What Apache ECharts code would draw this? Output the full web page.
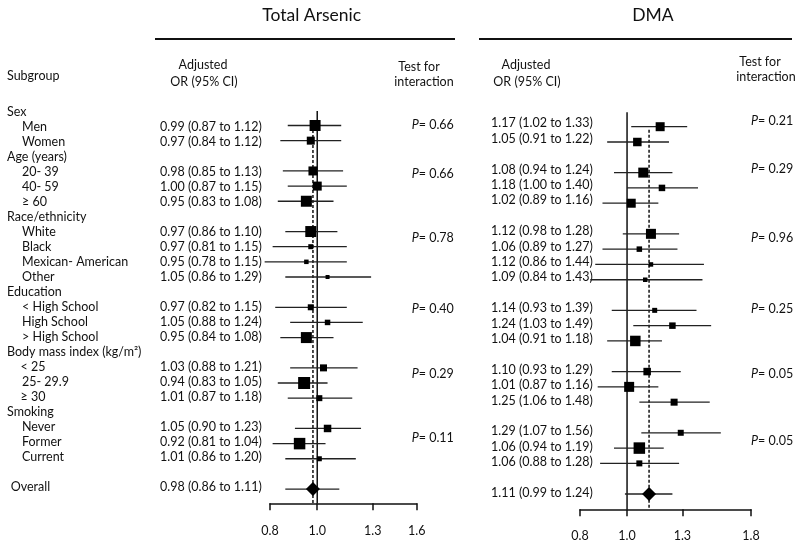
<!DOCTYPE html>
<html>
<head>
<meta charset="utf-8">
<script src="https://cdn.jsdelivr.net/npm/echarts@6/dist/echarts.min.js"></script>
<style>html,body{margin:0;padding:0;background:#fff}#c{width:800px;height:547px}</style>
</head>
<body>
<div id="c"></div>
<script>
// ---- data ----
const rowLabels = ['Sex','Men','Women','Age (years)','20- 39','40- 59','\u2265 60','Race/ethnicity','White','Black','Mexican- American','Other','Education','< High School','High School','> High School','Body mass index (kg/m\u00b2)','< 25','25- 29.9','\u2265 30','Smoking','Never','Former','Current','','Overall'];
const rowIsHeader = [1,0,0,1,0,0,0,1,0,0,0,0,1,0,0,0,1,0,0,0,1,0,0,0,0,1];

const arsenicOR  = [null,0.99,0.97,null,0.98,1.00,0.95,null,0.97,0.97,0.95,1.05,null,0.97,1.05,0.95,null,1.03,0.94,1.01,null,1.05,0.92,1.01,null,0.98];
const arsenicLo  = [null,0.87,0.84,null,0.85,0.87,0.83,null,0.86,0.81,0.78,0.86,null,0.82,0.88,0.84,null,0.88,0.83,0.87,null,0.90,0.81,0.86,null,0.86];
const arsenicHi  = [null,1.12,1.12,null,1.13,1.15,1.08,null,1.10,1.15,1.15,1.29,null,1.15,1.24,1.08,null,1.21,1.05,1.18,null,1.23,1.04,1.20,null,1.11];
const arsenicW   = [null,11,8,null,9,9,11,null,11,5,4.5,4,null,6,5.5,11,null,7,12,6,null,7.5,11.5,5,null,null];
const arsenicP   = ['0.66','0.66','0.78','0.40','0.29','0.11'];

const dmaOR = [null,1.17,1.05,null,1.08,1.18,1.02,null,1.12,1.06,1.12,1.09,null,1.14,1.24,1.04,null,1.10,1.01,1.25,null,1.29,1.06,1.06,null,1.11];
const dmaLo = [null,1.02,0.91,null,0.94,1.00,0.89,null,0.98,0.89,0.86,0.84,null,0.93,1.03,0.91,null,0.93,0.87,1.06,null,1.07,0.94,0.88,null,0.99];
const dmaHi = [null,1.33,1.22,null,1.24,1.40,1.16,null,1.28,1.27,1.44,1.43,null,1.39,1.49,1.18,null,1.29,1.16,1.48,null,1.56,1.19,1.28,null,1.24];
const dmaW  = [null,9,8.5,null,10,6.5,9,null,10,5.5,4.5,4.5,null,5,6.5,10.5,null,7.5,10,7,null,6,11.5,6,null,null];
const dmaP  = ['0.21','0.29','0.96','0.25','0.05','0.05'];

const arsenicTicks = [0.8, 1.0, 1.3, 1.6];
const dmaTicks = [0.8, 1.0, 1.3, 1.8];
const OVERALL_ROW = 25;

// ---- layout ----
const FONT = 'Lato';
const FS = 12.5;
const L = {
  ar: {grid:{left:270,width:146.7,top:110.35,height:392.95}, yMax:25.94, textX:160, textY0:111.7, textDy:15.03,
       pX:411.7, pY:[125,174,238,309,374,437.7], title:'Total Arsenic', titleX:311.7, line:[155,455],
       adjX:203, adjY:[65,82], testX:[419,424], testY:[67,82], labelMargin:21, dashFrom:1.3},
  dm: {grid:{left:580,width:171,top:111.4,height:397.9}, yMax:26.0, textX:491, textY0:107.9, textDy:15.4,
       pX:751, pY:[120.7,169.3,238.3,309.3,374,440.7], title:'DMA', titleX:653, line:[479,792],
       adjX:526, adjY:[65,82], testX:[760,766], testY:[62,77], labelMargin:20, dashFrom:1.2}
};

function fmt(v){return v.toFixed(2);}
const ln = Math.log;

function panel(idx, cfg, OR, LO, HI, W, ticks) {
  const ci = [], sq = [];
  for (let r = 0; r < OR.length; r++) {
    if (OR[r] == null) continue;
    ci.push([ln(LO[r]), ln(HI[r]), r]);
    if (r !== OVERALL_ROW) sq.push({value:[ln(OR[r]), r], symbolSize: W[r]});
  }
  const ov = OR[OVERALL_ROW];
  const xAxis = {
    gridIndex: idx, type:'value', min: ln(ticks[0]), max: ln(ticks[ticks.length-1]),
    position:'bottom',
    axisLine:{show:true, onZero:false, lineStyle:{color:'#111', width:1.5}},
    axisTick:{show:true, length:7, inside:false, lineStyle:{color:'#111', width:1.5}, customValues: ticks.map(ln)},
    axisLabel:{show:true, margin:cfg.labelMargin, fontFamily:FONT, fontSize:FS, color:'#111', customValues: ticks.map(ln),
      formatter: v => Math.exp(v).toFixed(1)},
    splitLine:{show:false}
  };
  const yAxis = {gridIndex: idx, type:'value', inverse:true, min:0, max:cfg.yMax, show:false};
  const series = [
    {type:'line', xAxisIndex:idx, yAxisIndex:idx, data:[[0,0.05],[0,cfg.yMax]], symbol:'none', silent:true,
     lineStyle:{color:'#111', width:1.5}, z:2, animation:false},
    {type:'line', xAxisIndex:idx, yAxisIndex:idx, data:[[ln(ov),cfg.dashFrom],[ln(ov),cfg.yMax]], symbol:'none', silent:true,
     lineStyle:{color:'#111', width:1.5, type:[3,2]}, z:2, animation:false},
    {type:'custom', xAxisIndex:idx, yAxisIndex:idx, data:ci, clip:false, z:3, animation:false,
     renderItem:(params, api) => {
       const a = api.coord([api.value(0), api.value(2)]);
       const b = api.coord([api.value(1), api.value(2)]);
       return {type:'line', shape:{x1:a[0], y1:a[1], x2:b[0], y2:b[1]}, style:{stroke:'#222', lineWidth:1.3}};
     }},
    {type:'scatter', xAxisIndex:idx, yAxisIndex:idx, symbol:'rect', data:sq, clip:false, z:4, animation:false,
     itemStyle:{color:'#000', opacity:1}},
    {type:'scatter', xAxisIndex:idx, yAxisIndex:idx, symbol:'diamond', symbolSize:[14,14],
     data:[[ln(ov), OVERALL_ROW]], clip:false, z:4, animation:false, itemStyle:{color:'#000', opacity:1}}
  ];
  // texts
  const g = [];
  const txt = (x, y, s, opt={}) => g.push({type:'text', x, y, silent:true, style:Object.assign({text:s, fontFamily:FONT, fontSize:FS, fill:'#111', verticalAlign:'middle', align:'left'}, opt)});
  for (let r = 0; r < OR.length; r++) {
    if (OR[r] == null) continue;
    txt(cfg.textX, cfg.textY0 + cfg.textDy*r, `${fmt(OR[r])} (${fmt(LO[r])} to ${fmt(HI[r])})`);
  }
  return {xAxis, yAxis, series, g};
}

const A = panel(0, L.ar, arsenicOR, arsenicLo, arsenicHi, arsenicW, arsenicTicks);
const D = panel(1, L.dm, dmaOR, dmaLo, dmaHi, dmaW, dmaTicks);

const graphic = [].concat(A.g, D.g);
const gt = (x, y, s, opt={}) => graphic.push({type:'text', x, y, silent:true, style:Object.assign({text:s, fontFamily:FONT, fontSize:FS, fill:'#111', verticalAlign:'middle', align:'left'}, opt)});

// subgroup column
for (let r = 0; r < rowLabels.length; r++) {
  if (!rowLabels[r]) continue;
  let x = rowIsHeader[r] ? 7 : 22;
  if (rowLabels[r] === 'Overall') x = 10.7;
  if (rowLabels[r] === '< 25' || rowLabels[r] === '\u2265 30') x = 20.5;
  gt(x, L.ar.textY0 + L.ar.textDy*r, rowLabels[r]);
}
gt(7, 76, 'Subgroup');

[[L.ar, arsenicP],[L.dm, dmaP]].forEach(([cfg, P]) => {
  gt(cfg.titleX, 15, cfg.title, {fontSize:17.5, align:'center'});
  graphic.push({type:'line', silent:true, shape:{x1:cfg.line[0], y1:39, x2:cfg.line[1], y2:39}, style:{stroke:'#111', lineWidth:2}});
  gt(cfg.adjX, cfg.adjY[0], 'Adjusted', {align:'center'});
  gt(cfg.adjX+1, cfg.adjY[1], 'OR (95% CI)', {align:'center'});
  gt(cfg.testX[0], cfg.testY[0], 'Test for', {align:'center'});
  gt(cfg.testX[1], cfg.testY[1], 'interaction', {align:'center'});
  P.forEach((p, i) => gt(cfg.pX, cfg.pY[i], `{i|P}= ${p}`, {rich:{i:{fontStyle:'italic', fontFamily:FONT, fontSize:FS, fill:'#111'}}}));
});

const chart = echarts.init(document.getElementById('c'), null, {renderer:'canvas'});
chart.setOption({
  backgroundColor:'#fff',
  animation:false,
  grid:[Object.assign({containLabel:false}, L.ar.grid), Object.assign({containLabel:false}, L.dm.grid)],
  xAxis:[A.xAxis, D.xAxis],
  yAxis:[A.yAxis, D.yAxis],
  series:[].concat(A.series, D.series),
  graphic: graphic
});
</script>
</body>
</html>
